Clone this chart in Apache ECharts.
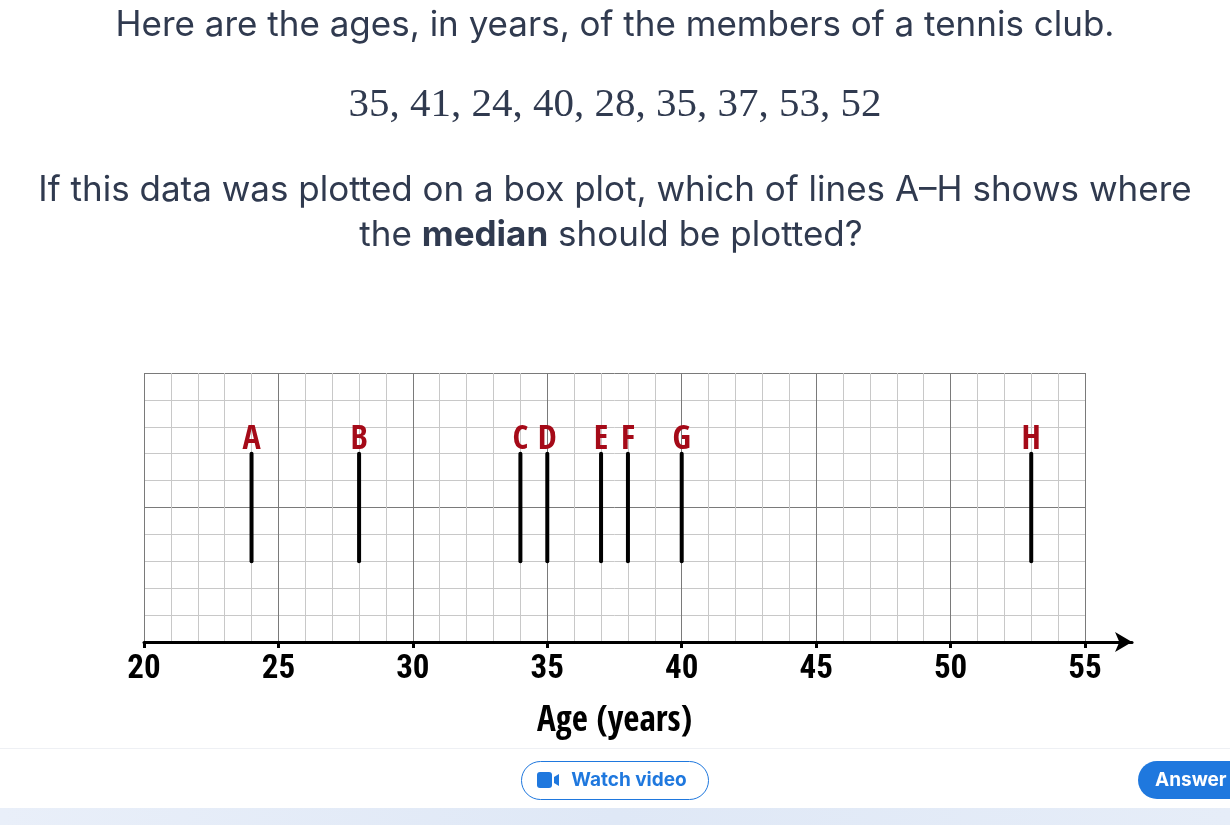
<!DOCTYPE html>
<html>
<head>
<meta charset="utf-8">
<script src="https://cdn.jsdelivr.net/npm/echarts@6/dist/echarts.min.js"></script>
<style>
html,body{margin:0;padding:0;background:#fff;}
#chart{width:1230px;height:825px;}
</style>
</head>
<body>
<div id="chart"></div>
<script>
// ---- data ----
const questionLine1 = 'Here are the ages, in years, of the members of a tennis club.';
const ages = [35, 41, 24, 40, 28, 35, 37, 53, 52];
const questionLine2 = 'If this data was plotted on a box plot, which of lines A\u2013H shows where';
const letters = ['A', 'B', 'C', 'D', 'E', 'F', 'G', 'H'];
const linePositions = [24, 28, 34, 35, 37, 38, 40, 53];
const lineBottom = 3;
const lineTop = 7;
const xTicks = [20, 25, 30, 35, 40, 45, 50, 55];
const xMin = 20, xMax = 55, arrowMax = 56.75;
const axisTitle = 'Age (years)';

const chart = echarts.init(document.getElementById('chart'), null, {renderer: 'canvas'});
const textColor = '#303a4f';
const tickFont = '"Roboto Condensed", "DejaVu Sans Condensed", sans-serif';
const condFont = '"Open Sans Condensed", "DejaVu Sans Condensed", sans-serif';
const headFont = 'Inter, "Open Sans", sans-serif';
const blue = '#1f78de';

const segData = linePositions.map((x, i) => [x, lineBottom, lineTop, i]);

const option = {
  backgroundColor: '#ffffff',
  animation: false,
  grid: [
    {left: 144, width: 941, top: 373, height: 269},
    {left: 144, width: 941 * (arrowMax - xMin) / (xMax - xMin), top: 373, height: 269}
  ],
  xAxis: [
    {
      type: 'value', gridIndex: 0, min: xMin, max: xMax, interval: 5,
      axisLine: {show: false}, axisTick: {show: false}, axisLabel: {show: false},
      splitLine: {show: true, lineStyle: {color: '#7a7a7a', width: 1}},
      minorTick: {show: false, splitNumber: 5},
      minorSplitLine: {show: true, lineStyle: {color: '#c8c8c8', width: 1}},
      name: axisTitle, nameLocation: 'middle', nameGap: 62,
      nameTextStyle: {fontFamily: condFont, fontWeight: 'bold', fontSize: 35, color: '#000'}
    },
    {
      type: 'value', gridIndex: 1, min: xMin, max: arrowMax,
      axisLine: {show: true, onZero: false, lineStyle: {color: '#000', width: 3},
        symbol: ['none', 'arrow'], symbolSize: [15, 17], symbolOffset: [0, 0]},
      axisTick: {show: true, customValues: xTicks, length: 6, lineStyle: {color: '#000', width: 3}},
      axisLabel: {show: true, customValues: xTicks, margin: 11, color: '#000',
        fontFamily: tickFont, fontSize: 33, fontWeight: 'bold'},
      splitLine: {show: false}
    }
  ],
  yAxis: [
    {
      type: 'value', gridIndex: 0, min: 0, max: 10, interval: 5,
      axisLine: {show: false}, axisTick: {show: false}, axisLabel: {show: false},
      splitLine: {show: true, lineStyle: {color: '#7a7a7a', width: 1}},
      minorTick: {show: false, splitNumber: 5},
      minorSplitLine: {show: true, lineStyle: {color: '#c8c8c8', width: 1}}
    },
    {
      type: 'value', gridIndex: 1, min: 0, max: 10, show: false
    }
  ],
  series: [
    {
      type: 'custom',
      xAxisIndex: 0, yAxisIndex: 0,
      data: segData,
      renderItem: function (params, api) {
        const x = api.value(0);
        const p0 = api.coord([x, api.value(1)]);
        const p1 = api.coord([x, api.value(2)]);
        const idx = api.value(3);
        return {
          type: 'group',
          children: [
            {type: 'line', shape: {x1: p0[0], y1: p0[1], x2: p1[0], y2: p1[1]},
             style: {stroke: '#000', lineWidth: 4, lineCap: 'round'}},
            {type: 'text', x: p1[0], y: p1[1] + 3,
             style: {text: letters[idx], fill: '#a50a18', fontFamily: condFont,
               fontWeight: 'bold', fontSize: 34, textAlign: 'center', textVerticalAlign: 'bottom'}}
          ]
        };
      }
    }
  ],
  graphic: [
    {type: 'text', x: 615, y: 25,
     style: {text: questionLine1, fill: textColor, font: '35px ' + headFont, textAlign: 'center', textVerticalAlign: 'middle'}},
    {type: 'text', x: 615, y: 105,
     style: {text: ages.join(', '), fill: textColor, font: '41px "Liberation Serif", "DejaVu Serif", serif', textAlign: 'center', textVerticalAlign: 'middle'}},
    {type: 'text', x: 615, y: 190,
     style: {text: questionLine2, fill: textColor, font: '35px ' + headFont, textAlign: 'center', textVerticalAlign: 'middle'}},
    {type: 'text', x: 611, y: 235,
     style: {rich: {b: {fontWeight: 'bold', fill: textColor, fontSize: 35, fontFamily: headFont},
                    n: {fill: textColor, fontSize: 35, fontFamily: headFont}},
             text: '{n|the }{b|median}{n| should be plotted?}', textAlign: 'center', textVerticalAlign: 'middle'}},
    {type: 'rect', left: 0, top: 748, shape: {width: 1230, height: 1}, style: {fill: '#eef0f4'}},
    {type: 'rect', left: 0, top: 808, shape: {width: 1230, height: 17},
     style: {fill: new echarts.graphic.LinearGradient(0, 0, 1, 0, [
       {offset: 0, color: '#e9eff9'}, {offset: 0.5, color: '#dfe8f6'}, {offset: 1, color: '#e6edf8'}])}},
    {type: 'rect', left: 521, top: 761, shape: {width: 187, height: 38, r: 19},
     style: {fill: '#fff', stroke: blue, lineWidth: 1}},
    {type: 'rect', left: 537, top: 772, shape: {width: 15, height: 16, r: 3}, style: {fill: blue}},
    {type: 'polygon', shape: {points: [[554, 777], [559, 774], [559, 786], [554, 783]]}, style: {fill: blue}},
    {type: 'text', x: 629, y: 780,
     style: {text: 'Watch video', fill: blue, font: 'bold 19px ' + headFont, textAlign: 'center', textVerticalAlign: 'middle'}},
    {type: 'rect', left: 1138, top: 761, shape: {width: 120, height: 38, r: 19}, style: {fill: blue}},
    {type: 'text', x: 1155, y: 780,
     style: {text: 'Answer', fill: '#fff', font: 'bold 19px ' + headFont, textVerticalAlign: 'middle'}}
  ]
};
chart.setOption(option);
</script>
</body>
</html>
